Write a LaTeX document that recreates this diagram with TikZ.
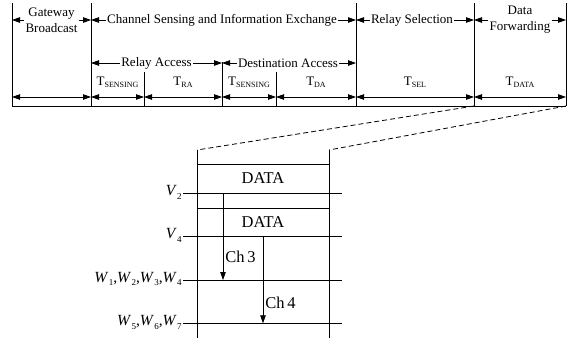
\documentclass[tikz,border=0pt]{standalone}
\usepackage{fontspec}
\setmainfont{Liberation Serif}
\usetikzlibrary{arrows.meta}
\newcommand{\tsub}[1]{T\raisebox{-0.35ex}{\fontsize{8}{8}\selectfont #1}}
\newcommand{\isub}[2]{\textit{#1}\kern0.3pt\raisebox{-0.55ex}{\fontsize{9}{9}\selectfont #2}}
\tikzset{
  lbl/.style={font=\fontsize{13}{16}\selectfont, inner sep=1pt, align=center},
  big/.style={font=\fontsize{16.5}{18}\selectfont, inner sep=1pt},
  ital/.style={font=\fontsize{15.5}{18}\selectfont, inner sep=1pt, anchor=base east, yshift=-2pt},
  tip/.tip={Triangle[length=8pt,width=5.5pt]},
  arr/.style={-tip},
  darr/.style={tip-tip},
  box/.style={draw, line width=0.8pt, minimum width=132pt, minimum height=29pt, inner sep=0pt, big},
}
\begin{document}
\begin{tikzpicture}[x=1pt,y=-1pt,line width=0.8pt]
\useasboundingbox (0,0) rectangle (569,341);
% dividers
\foreach \n/\x/\t in {0/12/3,1/91/3,2/144/72,3/222/62,4/276/72,5/356/3,6/474/3,7/566/3}{
  \coordinate (d\n t) at (\x,\t);
  \coordinate (d\n b) at (\x,106);
  \draw (d\n t) -- (d\n b);
}
\draw (d0b) -- (d7b);
% bottom double arrows
\foreach \a/\b in {0/1,1/2,2/3,3/4,4/5,5/6,6/7}{
  \draw[darr] (d\a t |- 0,97) -- (d\b t |- 0,97);
}
% top row
\node[lbl] (gb) at (51.5,20) {Gateway\\Broadcast};
\draw[arr] (gb.west) -- (gb.west -| d0t);
\draw[arr] (gb.east) -- (gb.east -| d1t);
\node[lbl] (cs) at (222,20) {Channel Sensing and Information Exchange};
\draw[arr] (cs.west) -- (cs.west -| d1t);
\draw[arr] (cs.east) -- (cs.east -| d5t);
\node[lbl] (rs) at (412,20) {Relay Selection};
\draw[arr] (rs.west) -- (rs.west -| d5t);
\draw[arr] (rs.east) -- (rs.east -| d6t);
\node[lbl] (df) at (520,20) {Data\\Forwarding};
\draw[arr] (df.west) -- (df.west -| d6t);
\draw[arr] (df.east) -- (df.east -| d7t);
% second row
\node[lbl] (ra) at (156.5,63) {Relay Access};
\draw[arr] (ra.west) -- (ra.west -| d1t);
\draw[arr] (ra.east) -- (ra.east -| d3t);
\node[lbl] (da) at (288,63) {Destination Access};
\draw[arr] (da.west) -- (da.west -| d3t);
\draw[arr] (da.east) -- (da.east -| d5t);
% T row
\node[lbl] (t1) at (117.5,82) {\tsub{SENSING}};
\node[lbl] (t2) at (183,82) {\tsub{RA}};
\node[lbl] (t3) at (249,82) {\tsub{SENSING}};
\node[lbl] (t4) at (316,82) {\tsub{DA}};
\node[lbl] (t5) at (415,82) {\tsub{SEL}};
\node[lbl] (t6) at (520,82) {\tsub{DATA}};
% zoom lines
\coordinate (L1) at (197,150);
\coordinate (L2) at (197,338);
\coordinate (R1) at (329,150);
\coordinate (R2) at (329,338);
\draw[dash pattern=on 5pt off 3pt] (d6b) -- (L1);
\draw[dash pattern=on 5pt off 3pt] (d7b) -- (R1);
\draw (L1) -- (L2);
\draw (R1) -- (R2);
% data boxes
\node[box, anchor=south] (data1) at (263,193.3) {DATA};
\node[box, anchor=south, minimum height=28.4pt] (data2) at (263,236.7) {DATA};
% horizontal lines
\foreach \n/\y in {1/193.3,2/236.7,3/280,4/323.3}{
  \coordinate (h\n l) at (183,\y);
  \coordinate (h\n r) at (342,\y);
  \draw (h\n l) -- (h\n r);
}
\node[ital] (v2) at (h1l) {\isub{V}{2}};
\node[ital] (v4) at (h2l) {\isub{V}{4}};
\node[ital] (w1) at (h3l) {\isub{W}{1},\isub{W}{2},\isub{W}{3},\isub{W}{4}};
\node[ital] (w5) at (h4l) {\isub{W}{5},\isub{W}{6},\isub{W}{7}};
% channel arrows
\coordinate (c3s) at (223,193.3);
\coordinate (c3e) at (223,280);
\coordinate (c4s) at (263,236.7);
\coordinate (c4e) at (263,323.3);
\draw[arr] (c3s) -- (c3e);
\draw[arr] (c4s) -- (c4e);
\node[big, anchor=west] (ch3) at (224,256.7) {Ch\,3};
\node[big, anchor=west] (ch4) at (264,303) {Ch\,4};
\end{tikzpicture}
\end{document}
